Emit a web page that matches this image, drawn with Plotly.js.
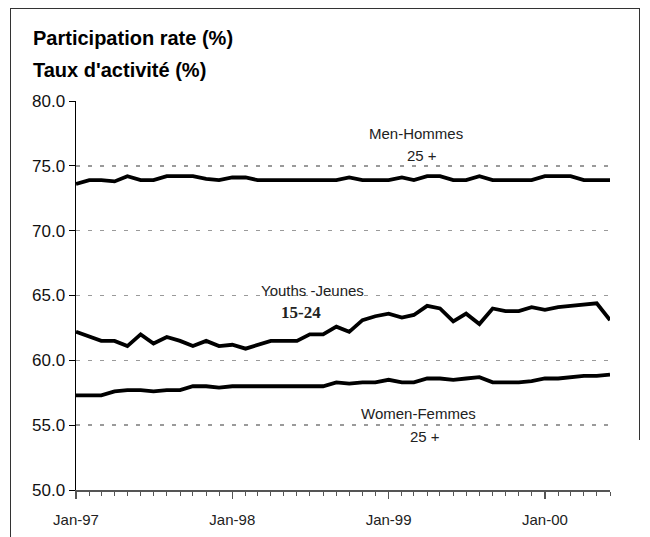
<!DOCTYPE html>
<html>
<head>
<meta charset="utf-8">
<script src="https://cdn.plot.ly/plotly-3.0.1.min.js"></script>
<style>
  html, body { margin: 0; padding: 0; background: #fff; }
  #wrap { position: relative; width: 650px; height: 537px; }
  #chart { width: 650px; height: 537px; }
  #frame { position: absolute; left: 10px; top: 8px; width: 629px; height: 600px;
           border-left: 1px solid #333; border-top: 1px solid #333; pointer-events: none; }
  #rframe { position: absolute; left: 639px; top: 8px; width: 0; height: 432px;
           border-left: 1px solid #333; pointer-events: none; }
</style>
</head>
<body>
<div id="wrap">
  <div id="chart"></div>
  <div id="frame"></div>
  <div id="rframe"></div>
</div>
<script>
// Monthly observations, Jan-1997 .. Jun-2000
const startYear = 1997, nMonths = 42;
const months = [];
for (let i = 0; i < nMonths; i++) {
  const y = startYear + Math.floor(i / 12), m = (i % 12) + 1;
  months.push(y + '-' + String(m).padStart(2, '0') + '-01');
}

const men25 = [73.6, 73.9, 73.9, 73.8, 74.2, 73.9, 73.9, 74.2, 74.2, 74.2, 74.0, 73.9,
               74.1, 74.1, 73.9, 73.9, 73.9, 73.9, 73.9, 73.9, 73.9, 74.1, 73.9, 73.9,
               73.9, 74.1, 73.9, 74.2, 74.2, 73.9, 73.9, 74.2, 73.9, 73.9, 73.9, 73.9,
               74.2, 74.2, 74.2, 73.9, 73.9, 73.9];

const youth1524 = [62.2, 61.8, 61.5, 61.5, 61.1, 62.0, 61.3, 61.8, 61.5, 61.1, 61.5, 61.1,
                   61.2, 60.9, 61.2, 61.5, 61.5, 61.5, 62.0, 62.0, 62.6, 62.2, 63.1, 63.4,
                   63.6, 63.3, 63.5, 64.2, 64.0, 63.0, 63.6, 62.8, 64.0, 63.8, 63.8, 64.1,
                   63.9, 64.1, 64.2, 64.3, 64.4, 63.1];

const women25 = [57.3, 57.3, 57.3, 57.6, 57.7, 57.7, 57.6, 57.7, 57.7, 58.0, 58.0, 57.9,
                 58.0, 58.0, 58.0, 58.0, 58.0, 58.0, 58.0, 58.0, 58.3, 58.2, 58.3, 58.3,
                 58.5, 58.3, 58.3, 58.6, 58.6, 58.5, 58.6, 58.7, 58.3, 58.3, 58.3, 58.4,
                 58.6, 58.6, 58.7, 58.8, 58.8, 58.9];

const titleLines = ['Participation rate (%)', "Taux d'activité (%)"];

const lineStyle = { color: '#000', width: 3.8 };
const traces = [
  { x: months, y: men25, name: 'Men-Hommes 25 +' },
  { x: months, y: youth1524, name: 'Youths-Jeunes 15-24' },
  { x: months, y: women25, name: 'Women-Femmes 25 +' }
].map(t => Object.assign(t, { type: 'scatter', mode: 'lines', line: lineStyle, hoverinfo: 'x+y' }));

const sans = 'Liberation Sans, Arial, sans-serif';
const L = 76, R = 610, T = 101, B = 490;
const px = x => (x - L) / (R - L);
const py = y => (B - y) / (B - T);

function ann(text, x, y, font) {
  return { text: text, xref: 'paper', yref: 'paper', x: px(x), y: py(y),
           xanchor: 'center', yanchor: 'middle', showarrow: false, font: font };
}
const labelFont = { family: sans, size: 15, color: '#222' };
const titleFont = { family: sans, size: 20, color: '#000' };
const annotations = [
  { text: '<b>' + titleLines[0] + '</b>', xref: 'paper', yref: 'paper', x: px(31), y: py(38),
    xanchor: 'left', yanchor: 'middle', showarrow: false, font: titleFont },
  { text: '<b>' + titleLines[1] + '</b>', xref: 'paper', yref: 'paper', x: px(31), y: py(70),
    xanchor: 'left', yanchor: 'middle', showarrow: false, font: titleFont },
  ann('Men-Hommes', 416, 133, labelFont),
  ann('25 +', 422, 155, labelFont),
  ann('Youths -Jeunes', 312, 290, labelFont),
  ann('<b>15-24</b>', 301, 312, { family: 'Liberation Serif, Times New Roman, serif', size: 17, color: '#222' }),
  ann('Women-Femmes', 418, 413, labelFont),
  ann('25 +', 425, 436, labelFont)
];

const layout = {
  width: 650, height: 537,
  margin: { l: L, r: 650 - R, t: T, b: 537 - B, pad: 0 },
  paper_bgcolor: '#fff', plot_bgcolor: '#fff',
  showlegend: false,
  xaxis: {
    type: 'date',
    range: [months[0], months[months.length - 1]],
    tick0: '1997-01-01', dtick: 'M12', tickformat: '%b-%y',
    ticks: 'outside', ticklen: 7, tickwidth: 1.5, tickcolor: '#555',
    showline: true, linecolor: '#555', linewidth: 2,
    showgrid: false, zeroline: false,
    minor: { ticks: 'outside', ticklen: 4, dtick: 'M1', tickcolor: '#555', tickwidth: 1, showgrid: false },
    tickfont: { family: sans, size: 15, color: '#222' },
    ticklabelstandoff: 8
  },
  yaxis: {
    range: [50, 80], dtick: 5, tick0: 50, tickformat: '.1f',
    ticks: 'outside', ticklen: 6, tickcolor: '#000', tickwidth: 1,
    showline: true, linecolor: '#000', linewidth: 1.5,
    showgrid: true, gridcolor: '#9a9a9a', gridwidth: 1.5, griddash: '4px,8px',
    zeroline: false,
    tickfont: { family: sans, size: 17, color: '#111' }
  },
  annotations: annotations
};

Plotly.newPlot('chart', traces, layout, { staticPlot: true, displayModeBar: false });
</script>
</body>
</html>
